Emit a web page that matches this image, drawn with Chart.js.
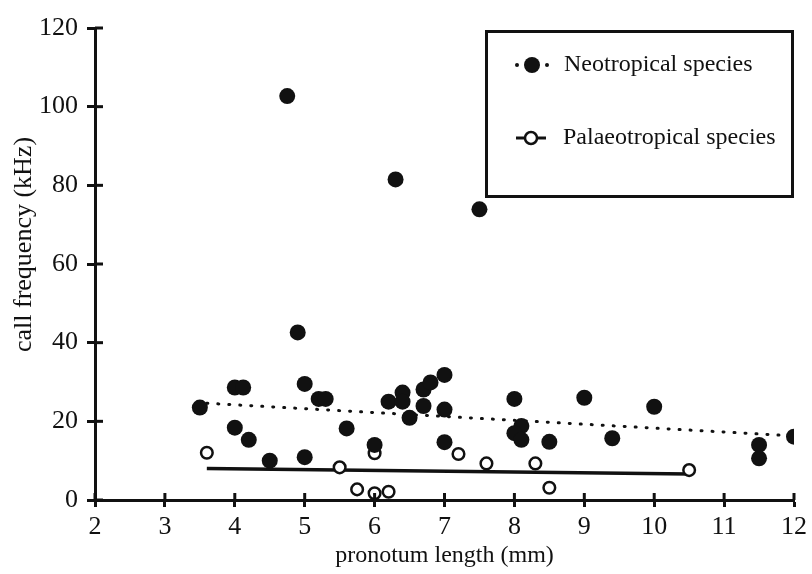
<!DOCTYPE html>
<html>
<head>
<meta charset="utf-8">
<script src="https://cdn.jsdelivr.net/npm/chart.js@4.4.0/dist/chart.umd.min.js"></script>
<style>
  html, body { margin: 0; padding: 0; background: #fff; }
  #wrap { width: 812px; height: 574px; }
</style>
</head>
<body>
<div id="wrap"><canvas id="myChart" width="812" height="574"></canvas></div>
<script>
// Neotropical species (filled circles)
var neoX = [3.5, 4.0, 4.12, 4.0, 4.2, 4.5, 4.75, 4.9, 5.0, 5.0, 5.2, 5.3, 5.6, 6.0, 6.2, 6.3, 6.4, 6.4, 6.5,
            6.7, 6.7, 6.8, 7.0, 7.0, 7.0, 7.5, 8.0, 8.1, 8.0, 8.1, 8.5, 9.0, 9.4, 10.0, 11.5, 11.5, 12.0];
var neoY = [23.5, 28.6, 28.6, 18.4, 15.3, 10.0, 102.7, 42.6, 29.5, 10.9, 25.7, 25.7, 18.2, 14.0, 25.0, 81.5, 27.3, 25.0, 20.9,
            28.1, 23.9, 29.9, 31.8, 23.0, 14.7, 73.9, 25.7, 18.8, 17.0, 15.3, 14.8, 26.0, 15.7, 23.7, 14.0, 10.6, 16.1];

// Palaeotropical species (open circles)
var palX = [3.6, 5.5, 5.75, 6.0, 6.0, 6.2, 7.2, 7.6, 8.3, 8.5, 10.5];
var palY = [12.0, 8.3, 2.7, 11.9, 1.7, 2.1, 11.7, 9.3, 9.3, 3.1, 7.6];

// regression lines (end points)
var neoTrendX = [3.6, 12.0];
var neoTrendY = [24.6, 16.3];
var palTrendX = [3.6, 10.5];
var palTrendY = [8.0, 6.6];

var xTicks = [2, 3, 4, 5, 6, 7, 8, 9, 10, 11, 12];
var yTicks = [0, 20, 40, 60, 80, 100, 120];
var seriesNames = ['Neotropical species', 'Palaeotropical species'];

var FONT = '"Liberation Serif", "Times New Roman", serif';
var INK = '#111';

function pairs(xs, ys) {
  return xs.map(function(x, i) { return { x: x, y: ys[i] }; });
}

// tick marks cross the axis line, so draw the inner half too
var innerTicks = {
  id: 'innerTicks',
  afterDatasetsDraw: function(chart) {
    var ctx = chart.ctx, a = chart.chartArea;
    var xs = chart.scales.x, ys = chart.scales.y;
    ctx.save();
    ctx.strokeStyle = INK;
    ctx.lineWidth = 3;
    xTicks.forEach(function(v) {
      var px = xs.getPixelForValue(v);
      ctx.beginPath(); ctx.moveTo(px, a.bottom); ctx.lineTo(px, a.bottom - 7); ctx.stroke();
    });
    yTicks.forEach(function(v) {
      var py = ys.getPixelForValue(v);
      ctx.beginPath(); ctx.moveTo(a.left, py); ctx.lineTo(a.left + 8, py); ctx.stroke();
    });
    ctx.restore();
  }
};

// boxed legend in the top right corner
var boxLegend = {
  id: 'boxLegend',
  afterDraw: function(chart) {
    var ctx = chart.ctx;
    ctx.save();
    ctx.strokeStyle = INK;
    ctx.lineWidth = 3;
    ctx.strokeRect(486.5, 31.5, 306, 165);

    // neotropical marker: . o .
    ctx.fillStyle = INK;
    ctx.beginPath(); ctx.arc(532, 65, 8, 0, Math.PI * 2); ctx.fill();
    ctx.beginPath(); ctx.arc(517, 65, 2, 0, Math.PI * 2); ctx.fill();
    ctx.beginPath(); ctx.arc(547, 65, 2, 0, Math.PI * 2); ctx.fill();

    // palaeotropical marker: -o-
    ctx.beginPath(); ctx.moveTo(516, 138); ctx.lineTo(546, 138); ctx.stroke();
    ctx.fillStyle = '#fff';
    ctx.lineWidth = 2.5;
    ctx.beginPath(); ctx.arc(531, 138, 6, 0, Math.PI * 2); ctx.fill(); ctx.stroke();

    ctx.fillStyle = INK;
    ctx.font = '24px ' + FONT;
    ctx.textBaseline = 'middle';
    ctx.fillText(seriesNames[0], 564, 65);
    ctx.fillText(seriesNames[1], 563, 138);
    ctx.restore();
  }
};

var ctx = document.getElementById('myChart').getContext('2d');
var myChart = new Chart(ctx, {
  type: 'scatter',
  data: {
    datasets: [{
      label: seriesNames[0],
      data: pairs(neoX, neoY),
      backgroundColor: INK,
      borderColor: INK,
      borderWidth: 0,
      pointRadius: 8,
      order: 1
    }, {
      label: seriesNames[1],
      data: pairs(palX, palY),
      backgroundColor: '#fff',
      borderColor: INK,
      borderWidth: 2.5,
      pointRadius: 5.8,
      order: 1
    }, {
      label: 'neo trend',
      type: 'line',
      data: pairs(neoTrendX, neoTrendY),
      borderColor: INK,
      borderWidth: 3,
      borderDash: [1, 10],
      borderCapStyle: 'round',
      pointRadius: 0,
      fill: false,
      order: 2
    }, {
      label: 'palaeo trend',
      type: 'line',
      data: pairs(palTrendX, palTrendY),
      borderColor: INK,
      borderWidth: 3.5,
      pointRadius: 0,
      fill: false,
      order: 2
    }]
  },
  options: {
    responsive: false,
    animation: false,
    layout: { padding: { top: 28, right: 17, left: 0, bottom: 0 } },
    plugins: {
      legend: { display: false },
      tooltip: { enabled: false }
    },
    scales: {
      x: {
        type: 'linear',
        min: 2,
        max: 12,
        afterFit: function(scale) { scale.height = 74; },
        afterBuildTicks: function(scale) {
          scale.ticks = xTicks.map(function(v) { return { value: v }; });
        },
        ticks: { color: INK, font: { family: FONT, size: 26 }, padding: 5, maxRotation: 0 },
        grid: { drawOnChartArea: false, drawTicks: true, tickLength: 7, tickWidth: 3, tickColor: INK },
        border: { color: INK, width: 3 },
        title: {
          display: true,
          text: 'pronotum length (mm)',
          color: INK,
          font: { family: FONT, size: 24 },
          padding: { top: 0, bottom: 4 }
        }
      },
      y: {
        min: 0,
        max: 120,
        afterFit: function(scale) { scale.width = 95; },
        afterBuildTicks: function(scale) {
          scale.ticks = yTicks.map(function(v) { return { value: v }; });
        },
        ticks: { color: INK, font: { family: FONT, size: 26 }, padding: 9 },
        grid: { drawOnChartArea: false, drawTicks: true, tickLength: 8, tickWidth: 3, tickColor: INK },
        border: { color: INK, width: 3 },
        title: {
          display: true,
          // leading spaces nudge the label up a little, as in the original
          text: '      call frequency (kHz)',
          color: INK,
          font: { family: FONT, size: 26 },
          padding: { top: 9, bottom: 0 }
        }
      }
    }
  },
  plugins: [innerTicks, boxLegend]
});
</script>
</body>
</html>
